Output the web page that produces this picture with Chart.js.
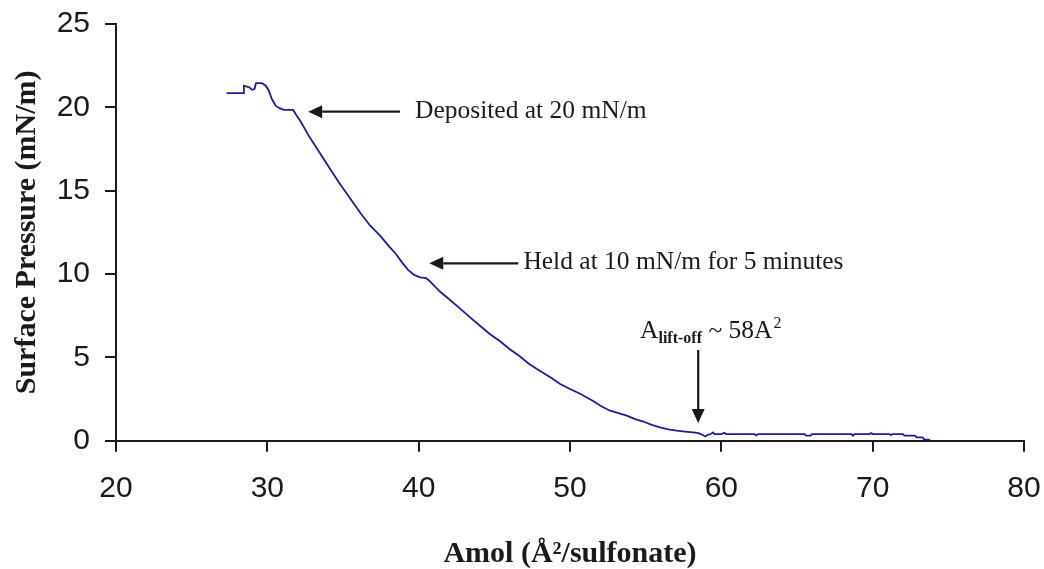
<!DOCTYPE html>
<html>
<head>
<meta charset="utf-8">
<script src="https://cdn.jsdelivr.net/npm/chart.js@4.4.1/dist/chart.umd.min.js"></script>
<style>
  html, body { margin: 0; padding: 0; background: #fff; }
  #wrap { width: 1044px; height: 569px; }
</style>
</head>
<body>
<div id="wrap"><canvas id="isotherm" width="1044" height="569"></canvas></div>
<script>
// Isotherm values (area in A^2/sulfonate, pressure in mN/m)
const areaValues = [
  27.3, 28.4, 28.45, 28.8, 29.0, 29.15, 29.25, 29.65, 29.9, 30.1,
  30.3, 30.55, 30.8, 31.1, 31.7, 31.9, 32.2, 32.8, 33.3, 34.15,
  34.8, 35.5, 36.2, 36.8, 37.45, 38.1, 38.5, 38.9, 39.3, 39.7,
  40.1, 40.5, 40.7, 41.4, 42.0, 42.7, 43.4, 44.05, 44.7, 45.4,
  46.0, 46.7, 47.3, 48.0, 48.7, 49.35, 50.0, 50.7, 51.5, 52.1,
  52.65, 53.2, 53.75, 54.3, 54.85, 55.4, 55.95, 56.5, 57.05, 57.6,
  58.15, 58.5, 58.8, 58.95, 59.1, 59.3, 59.45, 59.55, 60.0, 60.2,
  60.3, 62.2, 62.3, 62.45, 65.5, 65.6, 65.9, 66.0, 68.6, 68.7,
  68.8, 69.8, 69.9, 70.0, 71.1, 71.2, 71.3, 72.0, 72.1, 72.8,
  72.9, 73.3, 73.4, 73.8
];
const pressureValues = [
  20.85, 20.85, 21.3, 21.2, 21.05, 21.1, 21.45, 21.45, 21.3, 21.0,
  20.5, 20.1, 19.95, 19.85, 19.85, 19.55, 19.15, 18.2, 17.5, 16.3,
  15.4, 14.5, 13.6, 12.9, 12.3, 11.6, 11.2, 10.7, 10.25, 9.95,
  9.8, 9.75, 9.6, 8.95, 8.5, 7.95, 7.4, 6.9, 6.4, 5.95,
  5.5, 5.05, 4.6, 4.2, 3.8, 3.4, 3.1, 2.8, 2.4, 2.05,
  1.8, 1.65, 1.5, 1.3, 1.15, 0.95, 0.8, 0.68, 0.6, 0.55,
  0.5, 0.45, 0.33, 0.25, 0.35, 0.4, 0.5, 0.4, 0.4, 0.48,
  0.4, 0.4, 0.32, 0.4, 0.4, 0.3, 0.3, 0.4, 0.4, 0.3,
  0.4, 0.4, 0.46, 0.4, 0.4, 0.33, 0.4, 0.4, 0.3, 0.3,
  0.2, 0.2, 0.08, 0.05
];
const xTicks = [20, 30, 40, 50, 60, 70, 80];
const yTicks = [0, 5, 10, 15, 20, 25];

// Annotation arrows and texts, in data units
const arrows = [
  { from: [38.77, 19.74], to: [32.7, 19.74] },
  { from: [46.58, 10.64], to: [40.7, 10.64] },
  { from: [58.47, 5.44], to: [58.47, 1.06] }
];
const notes = [
  { text: 'Deposited at 20 mN/m', at: [39.76, 19.36] },
  { text: 'Held at 10 mN/m for 5 minutes', at: [46.92, 10.28] }
];
const liftOffAt = [54.63, 6.14];

const ink = '#1a1a1a';
const tickFont = { family: '"Liberation Sans Narrow", "Liberation Sans", Arial, sans-serif', size: 30 };
const titleFont = { family: '"Liberation Serif", "Times New Roman", serif', size: 30, weight: 'bold' };

function drawArrow(ctx, x1, y1, x2, y2) {
  const ang = Math.atan2(y2 - y1, x2 - x1);
  const headLen = 14, headHalf = 6.5;
  const bx = x2 - Math.cos(ang) * headLen;
  const by = y2 - Math.sin(ang) * headLen;
  ctx.beginPath();
  ctx.moveTo(x1, y1);
  ctx.lineTo(bx, by);
  ctx.stroke();
  ctx.beginPath();
  ctx.moveTo(x2, y2);
  ctx.lineTo(bx - Math.sin(ang) * headHalf, by + Math.cos(ang) * headHalf);
  ctx.lineTo(bx + Math.sin(ang) * headHalf, by - Math.cos(ang) * headHalf);
  ctx.closePath();
  ctx.fill();
}

const notesPlugin = {
  id: 'notes',
  afterDraw(chart) {
    const ctx = chart.ctx;
    const xs = chart.scales.x, ys = chart.scales.y;
    ctx.save();
    ctx.strokeStyle = ink;
    ctx.fillStyle = ink;
    ctx.lineWidth = 2.2;
    arrows.forEach(a => drawArrow(ctx,
      xs.getPixelForValue(a.from[0]), ys.getPixelForValue(a.from[1]),
      xs.getPixelForValue(a.to[0]), ys.getPixelForValue(a.to[1])));

    const serif = '"Liberation Serif", "Times New Roman", serif';
    ctx.textAlign = 'left';
    ctx.textBaseline = 'alphabetic';
    ctx.font = '25.5px ' + serif;
    notes.forEach(n => ctx.fillText(n.text, xs.getPixelForValue(n.at[0]), ys.getPixelForValue(n.at[1])));

    // A_lift-off ~ 58A^2
    let x = xs.getPixelForValue(liftOffAt[0]);
    const y = ys.getPixelForValue(liftOffAt[1]);
    ctx.font = '25.5px ' + serif;
    ctx.fillText('A', x, y);
    x += ctx.measureText('A').width;
    ctx.font = 'bold 16px ' + serif;
    ctx.fillText('lift-off', x, y + 5);
    x += ctx.measureText('lift-off').width;
    ctx.font = '25.5px ' + serif;
    ctx.fillText(' ~ 58A', x, y);
    x += ctx.measureText(' ~ 58A').width + 1;
    ctx.font = '16px ' + serif;
    ctx.fillText('2', x, y - 10);
    ctx.restore();
  }
};

const ctx = document.getElementById('isotherm').getContext('2d');
new Chart(ctx, {
  type: 'scatter',
  data: {
    datasets: [{
      label: 'Isotherm',
      data: areaValues.map((a, i) => ({ x: a, y: pressureValues[i] })),
      showLine: true,
      borderColor: '#1c1c9c',
      borderWidth: 1.8,
      pointRadius: 0,
      tension: 0
    }]
  },
  options: {
    responsive: false,
    animation: false,
    devicePixelRatio: 1,
    layout: { padding: { left: 0, right: 20, top: 24, bottom: 0 } },
    plugins: { legend: { display: false }, tooltip: { enabled: false } },
    scales: {
      x: {
        type: 'linear',
        min: 20,
        max: 80,
        afterBuildTicks: axis => { axis.ticks = xTicks.map(v => ({ value: v })); },
        afterFit: axis => {
          axis.height = 128.3;
          axis.paddingLeft = 0;
          axis.paddingRight = 0;
        },
        grid: { display: true, drawOnChartArea: false, drawTicks: true, tickLength: 11, color: ink, lineWidth: 2 },
        border: { display: true, color: ink, width: 2 },
        ticks: { color: ink, font: tickFont, padding: 19, maxRotation: 0 },
        title: {
          display: true,
          text: 'Amol (Å²/sulfonate)',
          color: ink,
          font: Object.assign({}, titleFont, { lineHeight: 1 }),
          padding: { top: 0, bottom: 0 }
        }
      },
      y: {
        type: 'linear',
        min: 0,
        max: 25,
        afterBuildTicks: axis => { axis.ticks = yTicks.map(v => ({ value: v })); },
        afterFit: axis => {
          axis.width = 116;
          axis.paddingTop = 0;
          axis.paddingBottom = 0;
        },
        grid: { display: true, drawOnChartArea: false, drawTicks: true, tickLength: 11, color: ink, lineWidth: 2 },
        border: { display: true, color: ink, width: 2 },
        ticks: { color: ink, font: tickFont, padding: 15 },
        title: {
          display: true,
          text: 'Surface Pressure (mN/m)',
          color: ink,
          font: titleFont,
          padding: { top: 9, bottom: 0 }
        }
      }
    }
  },
  plugins: [notesPlugin]
});
</script>
</body>
</html>
